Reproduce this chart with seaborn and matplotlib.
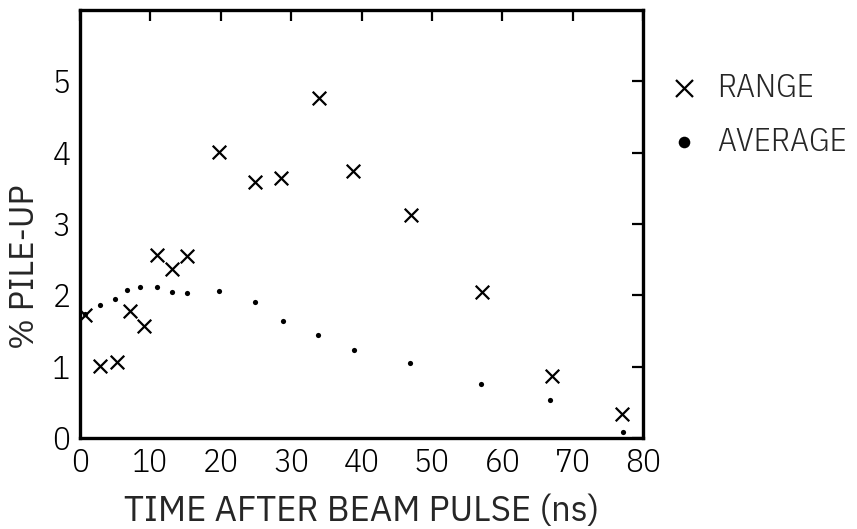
import matplotlib
matplotlib.use("Agg")
import matplotlib.pyplot as plt
import seaborn as sns
import pandas as pd

# Data
range_time = [0.7, 2.9, 5.3, 7.1, 9.1, 10.9, 13.1, 15.2, 19.8, 24.9, 28.6, 34.0, 38.8, 47.0, 57.1, 67.0, 77.0]
range_pileup = [1.72, 1.01, 1.06, 1.78, 1.57, 2.56, 2.37, 2.55, 4.01, 3.59, 3.64, 4.77, 3.74, 3.12, 2.05, 0.87, 0.33]
avg_time = [0.7, 2.8, 4.9, 6.7, 8.5, 10.9, 13.1, 15.2, 19.8, 24.9, 28.9, 33.8, 38.9, 46.9, 57.0, 66.8, 77.1]
avg_pileup = [1.74, 1.86, 1.95, 2.08, 2.12, 2.12, 2.05, 2.03, 2.06, 1.91, 1.64, 1.44, 1.23, 1.05, 0.76, 0.53, 0.08]
x_ticks = [0, 10, 20, 30, 40, 50, 60, 70, 80]
y_ticks = [0, 1, 2, 3, 4, 5]
x_label = "TIME AFTER BEAM PULSE (ns)"
y_label = "% PILE-UP"
series_names = ["RANGE", "AVERAGE"]

sns.set_style("white")
FONT = ['IBM Plex Sans Condensed', 'DejaVu Sans']
LABEL_FONT = ['IBM Plex Sans', 'DejaVu Sans']
plt.rcParams['font.family'] = FONT
plt.rcParams['font.weight'] = 300

df_range = pd.DataFrame({"t": range_time, "p": range_pileup})
df_avg = pd.DataFrame({"t": avg_time, "p": avg_pileup})

fig = plt.figure(figsize=(8.57, 5.29), dpi=100)
ax = fig.add_axes([0.0934, 0.172, 0.657, 0.809])

sns.scatterplot(data=df_range, x="t", y="p", marker="x", s=95, color="black",
                linewidth=1.6, ax=ax, label=series_names[0])
sns.scatterplot(data=df_avg, x="t", y="p", marker="o", s=14, color="black",
                edgecolor="black", linewidth=0, ax=ax, label=series_names[1])

ax.set_xlim(0, 80)
ax.set_ylim(0, 6)
ax.set_xticks(x_ticks)
ax.set_yticks(y_ticks)
ax.set_xticklabels([str(v) for v in x_ticks])
ax.set_yticklabels([str(v) for v in y_ticks])
ax.tick_params(direction="in", length=8, width=1.6, top=True, right=True,
               labelsize=24, color="black", labelcolor="black")
ax.tick_params(axis="x", pad=7)
ax.tick_params(axis="y", pad=7)
for sp in ax.spines.values():
    sp.set_visible(True)
    sp.set_linewidth(2.4)
    sp.set_color("black")

ax.set_xlabel(x_label, fontsize=25, labelpad=12, family=LABEL_FONT, weight=300)
ax.set_ylabel(y_label, fontsize=24, family=LABEL_FONT, weight=300)
ax.yaxis.set_label_coords(-0.07, 0.40)

leg = ax.legend(frameon=False, loc="upper left", bbox_to_anchor=(1.025, 0.885),
                handlelength=0.8, handletextpad=0.6, labelspacing=0.72,
                borderaxespad=0, prop={'family': FONT, 'size': 24, 'weight': 300})
hs = leg.legend_handles
hs[0].set_sizes([150])
hs[1].set_sizes([70])

fig.savefig("out.png", dpi=100)
